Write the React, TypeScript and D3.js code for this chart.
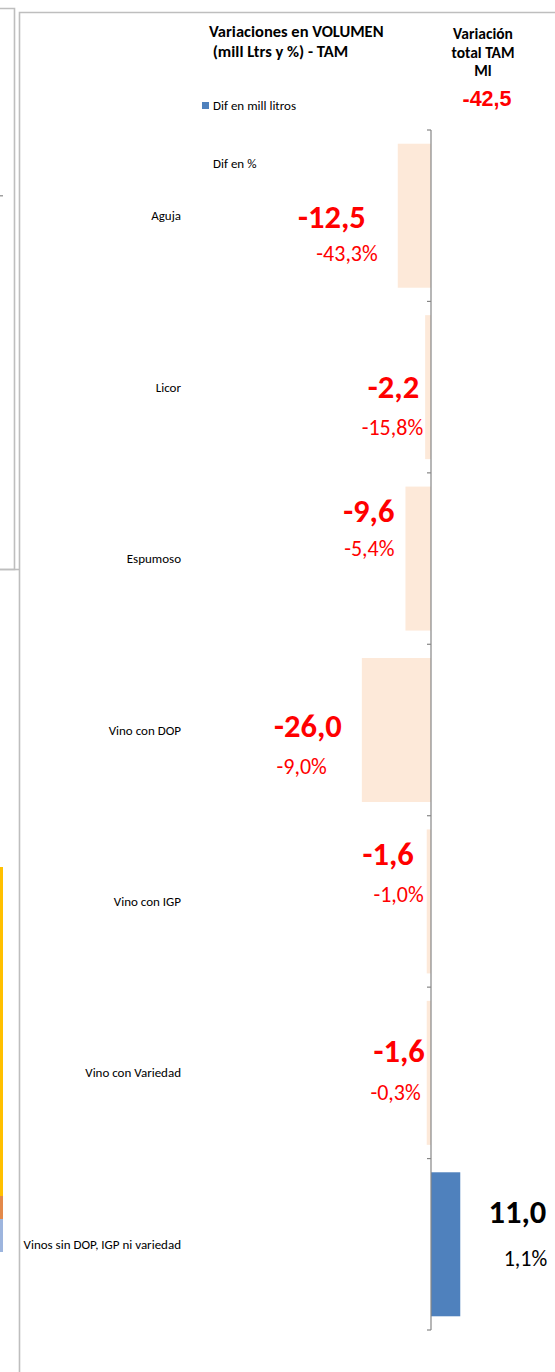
import React, { useEffect, useRef } from "react";
import * as d3 from "d3";

const categories = [
  "Aguja",
  "Licor",
  "Espumoso",
  "Vino con DOP",
  "Vino con IGP",
  "Vino con Variedad",
  "Vinos sin DOP, IGP ni variedad",
];
const difMillLitros = [-12.5, -2.2, -9.6, -26.0, -1.6, -1.6, 11.0];
const difPct = [-43.3, -15.8, -5.4, -9.0, -1.0, -0.3, 1.1];
const totalTAM = -42.5;
const legendLabels = ["Dif en mill litros", "Dif en %"];
const titleLines = ["Variaciones en VOLUMEN", " (mill Ltrs y %) - TAM"];
const totalTitleLines = ["Variación", "total TAM", "Ml"];

// label placement (offsets from bar end / band centre), layout only
const labelOffsets = [
  { bx: -32, by: 12, px: -20, py: 45 },
  { bx: -6, by: 11, px: -2, py: 48 },
  { bx: -11, by: -37, px: -11, py: -3 },
  { bx: -20, by: 7, px: -35, py: 44 },
  { bx: -13, by: -36, px: -3, py: 1 },
  { bx: -2, by: -11, px: -6, py: 27 },
  { bx: 86, by: -21, px: 87, py: 22 },
];

const W = 555;
const H = 1372;
const FONT = "Carlito, Calibri, Lato, 'Open Sans', sans-serif";
const fmt = (v: number) => d3.format(".1f")(v).replace(".", ",").replace("−", "-");

export default function App() {
  const ref = useRef<SVGSVGElement>(null);

  useEffect(() => {
    document.body.style.margin = "0";
    const svg = d3.select(ref.current);
    svg.selectAll("*").remove();

    const x = d3.scaleLinear().domain([-50, 30]).range([298, 510.8]);
    const y = d3
      .scaleBand<string>()
      .domain(categories)
      .range([130, 1330])
      .paddingInner(0.16)
      .paddingOuter(0.08);

    // frame lines from surrounding sheet
    const frame = svg.append("g").attr("stroke", "#BEBEBE").attr("stroke-width", 1.6).attr("fill", "none");
    frame.append("path").attr("d", "M0,8.5H14.5V569.5H0");
    frame.append("path").attr("d", "M0,569.5H19.5");
    frame.append("path").attr("d", "M19.5,1372V12.5H555");
    svg.append("rect").attr("x", 0).attr("y", 195).attr("width", 3).attr("height", 1.5).attr("fill", "#A0A0A0");
    // coloured strips (neighbouring chart)
    const strips = [
      { y0: 867, y1: 1196, c: "#FFC000" },
      { y0: 1196, y1: 1219, c: "#E3894A" },
      { y0: 1219, y1: 1252, c: "#9DB5DE" },
    ];
    svg
      .selectAll("rect.strip")
      .data(strips)
      .join("rect")
      .attr("class", "strip")
      .attr("x", 0)
      .attr("width", 3)
      .attr("y", (d) => d.y0)
      .attr("height", (d) => d.y1 - d.y0)
      .attr("fill", (d) => d.c);

    // title
    svg
      .append("g")
      .selectAll("text")
      .data(titleLines)
      .join("text")
      .attr("x", 209)
      .attr("y", (_, i) => 37 + i * 20)
      .attr("font-family", FONT)
      .attr("font-weight", "bold")
      .attr("font-size", 16.5)
      .attr("fill", "#000")
      .style("white-space", "pre")
      .text((d) => d);

    svg
      .append("g")
      .selectAll("text")
      .data(totalTitleLines)
      .join("text")
      .attr("x", 483)
      .attr("y", (_, i) => 39 + i * 18.5)
      .attr("text-anchor", "middle")
      .attr("font-family", FONT)
      .attr("font-weight", "bold")
      .attr("font-size", 15.5)
      .attr("fill", "#000")
      .text((d) => d);

    svg
      .append("text")
      .attr("x", 487)
      .attr("y", 106)
      .attr("text-anchor", "middle")
      .attr("font-family", "'Liberation Sans', Arial, sans-serif")
      .attr("font-weight", "bold")
      .attr("font-size", 21.5)
      .attr("fill", "#FF0000")
      .text(fmt(totalTAM));

    // legend
    svg.append("rect").attr("x", 202).attr("y", 102).attr("width", 7).attr("height", 7).attr("fill", "#4F81BD");
    svg
      .append("g")
      .selectAll("text")
      .data(legendLabels)
      .join("text")
      .attr("x", 213)
      .attr("y", (_, i) => (i === 0 ? 109.5 : 167.5))
      .attr("font-family", FONT)
      .attr("font-size", 13)
      .attr("fill", "#000")
      .text((d) => d);

    // bars
    svg
      .append("g")
      .selectAll("rect")
      .data(categories)
      .join("rect")
      .attr("x", (_, i) => Math.min(x(0), x(difMillLitros[i])))
      .attr("width", (_, i) => Math.abs(x(difMillLitros[i]) - x(0)))
      .attr("y", (d) => y(d)!)
      .attr("height", y.bandwidth())
      .attr("fill", (_, i) => (difMillLitros[i] < 0 ? "#FDE9D9" : "#4F81BD"));

    // axis at zero with ticks at category boundaries
    const step = y.step();
    const start = y.range()[0];
    const ticks = d3.range(categories.length + 1).map((i) => start + i * step);
    const axis = svg.append("g").attr("stroke", "#868686").attr("stroke-width", 1.2);
    axis
      .append("line")
      .attr("x1", x(0))
      .attr("x2", x(0))
      .attr("y1", ticks[0])
      .attr("y2", ticks[ticks.length - 1]);
    axis
      .selectAll("line.tick")
      .data(ticks)
      .join("line")
      .attr("class", "tick")
      .attr("x1", x(0) - 4)
      .attr("x2", x(0))
      .attr("y1", (d) => d)
      .attr("y2", (d) => d);

    // category labels
    svg
      .append("g")
      .selectAll("text")
      .data(categories)
      .join("text")
      .attr("x", 181)
      .attr("y", (d) => y(d)! + y.bandwidth() / 2 + 4.5)
      .attr("text-anchor", "end")
      .attr("font-family", FONT)
      .attr("font-size", 13)
      .attr("fill", "#000")
      .text((d) => d);

    // data labels
    const lab = svg.append("g");
    categories.forEach((c, i) => {
      const v = difMillLitros[i];
      const xe = x(v);
      const yc = y(c)! + y.bandwidth() / 2;
      const o = labelOffsets[i];
      const col = v < 0 ? "#FF0000" : "#000000";
      lab
        .append("text")
        .attr("x", xe + o.bx)
        .attr("y", yc + o.by)
        .attr("text-anchor", "end")
        .attr("font-family", FONT)
        .attr("font-weight", "bold")
        .attr("font-size", 32.5)
        .attr("fill", col)
        .text(fmt(v));
      lab
        .append("text")
        .attr("x", xe + o.px)
        .attr("y", yc + o.py)
        .attr("text-anchor", "end")
        .attr("font-family", FONT)
        .attr("font-size", 22)
        .attr("fill", col)
        .text(fmt(difPct[i]) + "%");
    });
  }, []);

  return <svg ref={ref} width={W} height={H} style={{ display: "block", background: "#fff" }} />;
}
